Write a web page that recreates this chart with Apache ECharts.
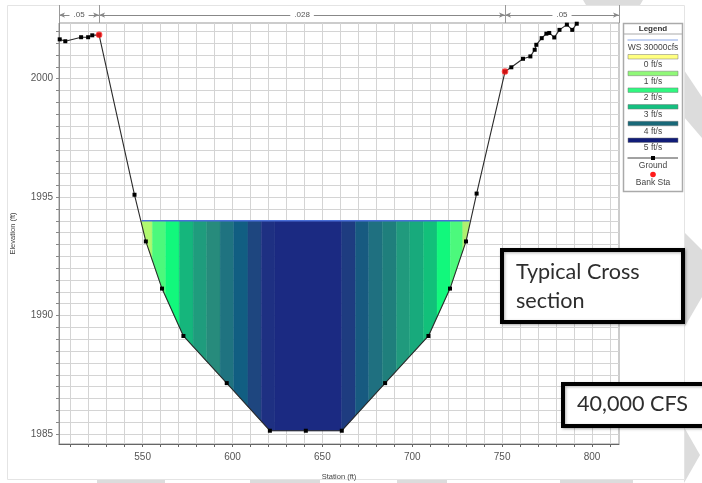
<!DOCTYPE html>
<html><head><meta charset="utf-8">
<style>html,body{margin:0;padding:0;background:#fff}#c{width:702px;height:483px;filter:blur(0.4px)}</style>
<script src="https://cdn.jsdelivr.net/npm/echarts@6/dist/echarts.min.js"></script>
</head><body><div id="c"></div>
<script>
var groundStation = [503.9,507,515.8,519.7,522,525.8,545.5,551.8,560.8,572.7,596.8,620.8,640.8,660.8,684.9,709,721,729.9,735.8,751.6,755.1,761.6,765.7,768.1,769,772,774.6,776.2,779,781.9,786,789,791.5];
var groundElevation = [2001.66,2001.58,2001.75,2001.75,2001.83,2001.85,1995.1,1993.13,1991.14,1989.14,1987.15,1985.14,1985.14,1985.14,1987.15,1989.14,1991.14,1993.13,1995.15,2000.3,2000.48,2000.84,2000.94,2001.22,2001.43,2001.71,2001.9,2001.93,2001.74,2002.06,2002.28,2002.06,2002.32];
var bankStations = [[525.8,2001.85],[751.6,2000.3]];
var waterElevation = 1994;
var waterStart = 549.4, waterEnd = 731.9;
var bandEdges = [549.4,555.4,562.9,570.4,578.1,585.7,593.1,600.7,608.6,616,623.6,660.8,668.4,675.8,683.4,691.2,698.6,706.2,713.8,721.2,728.1,731.9];
var bandColors = ['#b0f870','#4cf97c','#12f87c','#15b67c','#1f9c7d','#278b7c','#1f7380','#115e82','#1e467f','#1e3082','#1b2a82','#1e3c80','#175a80','#1f7080','#1f7f7c','#209a7d','#18aa7c','#12c07a','#12f87c','#4cf97c','#b0f070'];
var nBreaks = [503.5,525.8,751.6,815];
var nValues = ['.05','.028','.05'];
var legendSwatches = [['0 ft/s','#ffff80'],['1 ft/s','#90f878'],['2 ft/s','#30f880'],['3 ft/s','#14c080'],['4 ft/s','#186878'],['5 ft/s','#101c78']];
var xLabels = [550,600,650,700,750,800];
var yLabels = [1985,1990,1995,2000];
var xMin = 503.5, xMax = 815, yMin = 1984.58, yMax = 2002.35;
var xStep = 10, yStep = 0.5;

var xTicks = [], yTicks = [], v;
for (v = 510; v <= 810; v += xStep) xTicks.push(v);
for (v = 1985; v <= 2002; v += yStep) yTicks.push(v);

var ground = groundStation.map(function(x,i){return [x,groundElevation[i]];});
function groundAt(x){
  for(var i=1;i<ground.length;i++){
    if(x<=ground[i][0]&&x>=ground[i-1][0]){
      var t=(x-ground[i-1][0])/(ground[i][0]-ground[i-1][0]);
      return ground[i-1][1]+t*(ground[i][1]-ground[i-1][1]);
    }
  }
  return waterElevation;
}
var bandData = bandColors.map(function(c,i){return [bandEdges[i],bandEdges[i+1],i];});

function renderBand(params,api){
  var a=api.value(0),b=api.value(1),idx=api.value(2);
  var pts=[[a,waterElevation],[b,waterElevation],[b,Math.min(groundAt(b),waterElevation)]];
  for(var i=ground.length-1;i>=0;i--){
    if(ground[i][0]<b&&ground[i][0]>a&&ground[i][1]<waterElevation)pts.push(ground[i]);
  }
  pts.push([a,Math.min(groundAt(a),waterElevation)]);
  return {type:'polygon',shape:{points:pts.map(function(p){return api.coord(p);})},
    style:{fill:bandColors[idx],stroke:bandColors[idx],lineWidth:0.4}};
}

var nLines = nValues.map(function(v,i){
  return [{coord:[nBreaks[i],0.44],name:v},{coord:[nBreaks[i+1],0.44]}];
});
var nDividers = nBreaks.map(function(x){return {xAxis:x};});

var txt='#555', F='"Liberation Sans",Arial,sans-serif';
var bg=[
 [[583,0],[643,0],[640,5],[586,5]],
 [[684,70],[702,97],[702,138],[684,117]],
 [[684,232],[702,250],[702,297],[684,328]],
 [[684,427],[700,455],[684,483]],
 [[97,480],[165,480],[165,483],[97,483]],
 [[250,480],[320,480],[320,483],[250,483]],
 [[397,480],[447,480],[447,483],[397,483]],
 [[560,480],[633,480],[633,483],[560,483]]
].map(function(p){return {type:'polygon',z:-3,shape:{points:p},style:{fill:'#dcdcdc'}};});
bg.push({type:'rect',z:-2,shape:{x:7.5,y:5.5,width:677,height:474},style:{fill:'#fff',stroke:'#e4e4e4',lineWidth:1}});

function t(x,y,s,o){return {type:'text',z:50,x:x,y:y,style:Object.assign({text:s,fill:'#444',font:'8.5px '+F,textAlign:'center',textVerticalAlign:'middle'},o||{})};}
var lg=[
 {type:'rect',z:49,shape:{x:623.5,y:23.5,width:59,height:168},style:{fill:'#fff',stroke:'#aaa',lineWidth:1.5}},
 {type:'line',z:50,shape:{x1:623.5,y1:34,x2:682.5,y2:34},style:{stroke:'#aaa',lineWidth:1}},
 t(653,28.5,'Legend',{font:'bold 8px '+F,fill:'#333'}),
 {type:'line',z:50,shape:{x1:627.5,y1:40,x2:678,y2:40},style:{stroke:'#8aa8e8',lineWidth:1.2}},
 t(653,47.5,'WS 30000cfs')
];
legendSwatches.forEach(function(s,i){
  var y=54.5+i*16.7;
  lg.push({type:'rect',z:50,shape:{x:628,y:y,width:50,height:4.5},style:{fill:s[1],stroke:'#777',lineWidth:0.5}});
  lg.push(t(653,y+10,s[0]));
});
lg.push({type:'line',z:50,shape:{x1:627.5,y1:158,x2:678,y2:158},style:{stroke:'#444',lineWidth:1}});
lg.push({type:'rect',z:51,shape:{x:651,y:156,width:4,height:4},style:{fill:'#000'}});
lg.push(t(653,165.5,'Ground'));
lg.push({type:'circle',z:50,shape:{cx:653,cy:174.5,r:2.8},style:{fill:'#ff1a1a'}});
lg.push(t(653,182.5,'Bank Sta'));

function callout(x,y,w,h,lines,tx,ys){
  var a=[{type:'rect',z:60,shape:{x:x,y:y,width:w,height:h},style:{fill:'#fff',stroke:'#000',lineWidth:4,shadowBlur:3,shadowColor:'rgba(0,0,0,0.3)',shadowOffsetX:1,shadowOffsetY:1}}];
  lines.forEach(function(s,i){
    a.push({type:'text',z:61,x:tx,y:ys[i],style:{text:s,fill:'#2e2e2e',font:'21.6px Lato,"Open Sans",sans-serif',textAlign:'left',textVerticalAlign:'middle',shadowBlur:2,shadowColor:'rgba(0,0,0,0.4)',shadowOffsetX:1,shadowOffsetY:1}});
  });
  return a;
}
var boxes=callout(502,250,181,72,['Typical Cross','section'],516,[272,301]).concat(callout(563,384,150,42,['40,000 CFS'],577,[404]));

var chart=echarts.init(document.getElementById('c'),null,{renderer:'canvas'});
chart.setOption({
  animation:false,
  backgroundColor:'#fff',
  textStyle:{fontFamily:F},
  graphic:bg.concat(lg).concat(boxes),
  grid:[
    {left:59,right:83,top:23,bottom:39,show:true,borderColor:'#999',borderWidth:1,backgroundColor:'transparent',outerBoundsMode:'none'},
    {left:59,right:83,top:5,height:18,show:false,outerBoundsMode:'none'}
  ],
  xAxis:[
    {type:'value',gridIndex:0,min:xMin,max:xMax,name:'Station (ft)',nameLocation:'middle',nameGap:29,
     nameTextStyle:{fontSize:7.5,color:'#444',fontWeight:500},
     axisLine:{show:true,lineStyle:{color:'#666',width:1}},
     axisTick:{show:true,length:3,lineStyle:{color:'#666'},customValues:xTicks},
     axisLabel:{color:txt,fontSize:10,margin:8,customValues:xLabels,formatter:function(v){return String(v);}},
     splitLine:{show:true,lineStyle:{color:'#d4d4d4',width:1}}},
    {type:'value',gridIndex:1,min:xMin,max:xMax,show:false,splitLine:{show:false}}
  ],
  yAxis:[
    {type:'value',gridIndex:0,min:yMin,max:yMax,name:'Elevation (ft)',nameLocation:'middle',nameGap:42,
     nameTextStyle:{fontSize:7.5,color:'#444',fontWeight:500},
     axisLine:{show:true,lineStyle:{color:'#888',width:1}},
     axisTick:{show:true,length:3,lineStyle:{color:'#888'},customValues:yTicks},
     axisLabel:{color:txt,fontSize:10,margin:6,padding:[2,0,0,0],customValues:yLabels,formatter:function(v){return String(v);}},
     splitLine:{show:true,lineStyle:{color:'#d4d4d4',width:1}}},
    {type:'value',gridIndex:1,min:0,max:1,show:false,splitLine:{show:false}}
  ],
  series:[
    {type:'custom',name:'Velocity',xAxisIndex:0,yAxisIndex:0,data:bandData,renderItem:renderBand,z:3,silent:true,clip:false},
    {type:'line',name:'WS 30000cfs',xAxisIndex:0,yAxisIndex:0,data:[[waterStart,waterElevation],[waterEnd,waterElevation]],showSymbol:false,symbol:'none',lineStyle:{color:'#4a6fd8',width:1.5},z:4,silent:true},
    {type:'line',name:'Ground',xAxisIndex:0,yAxisIndex:0,data:ground,symbol:'rect',symbolSize:4,showSymbol:true,showAllSymbol:true,itemStyle:{color:'#000'},lineStyle:{color:'#2a2a2a',width:1.1},z:5,silent:true,clip:false},
    {type:'scatter',name:'Bank Sta',xAxisIndex:0,yAxisIndex:0,data:bankStations,symbol:'circle',symbolSize:6.5,itemStyle:{color:'#ff1a1a'},z:6,silent:true,clip:false},
    {type:'line',name:'n values',xAxisIndex:1,yAxisIndex:1,data:[],silent:true,
     markLine:{silent:true,animation:false,symbol:['arrow','arrow'],symbolSize:[4,6],
       lineStyle:{color:'#888',width:1,type:'solid'},
       label:{show:true,position:'middle',distance:0,verticalAlign:'middle',formatter:'{b}',color:'#555',fontSize:8,backgroundColor:'#fff',padding:[1,4]},
       data:nLines}},
    {type:'line',name:'n breaks',xAxisIndex:1,yAxisIndex:1,data:[],silent:true,
     markLine:{silent:true,animation:false,symbol:'none',lineStyle:{color:'#999',width:1,type:'solid'},label:{show:false},data:nDividers}}
  ]
});
</script></body></html>
